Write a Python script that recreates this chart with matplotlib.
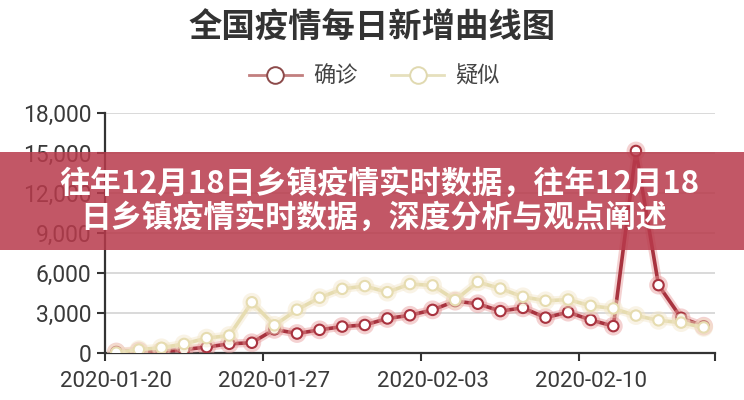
import matplotlib
matplotlib.use("Agg")
import matplotlib.pyplot as plt
import matplotlib.patheffects as pe
from matplotlib.lines import Line2D
from matplotlib.patches import Rectangle
from matplotlib.ticker import FuncFormatter, FixedLocator

plt.rcParams['font.family'] = ['Noto Sans CJK SC', 'DejaVu Sans']

dates = ["2020-01-20", "2020-01-21", "2020-01-22", "2020-01-23", "2020-01-24", "2020-01-25",
         "2020-01-26", "2020-01-27", "2020-01-28", "2020-01-29", "2020-01-30", "2020-01-31",
         "2020-02-01", "2020-02-02", "2020-02-03", "2020-02-04", "2020-02-05", "2020-02-06",
         "2020-02-07", "2020-02-08", "2020-02-09", "2020-02-10", "2020-02-11", "2020-02-12",
         "2020-02-13", "2020-02-14", "2020-02-15"]
confirmed = [77, 149, 131, 259, 444, 688, 769, 1771, 1459, 1737, 1982, 2102, 2590, 2829,
             3235, 3887, 3694, 3143, 3385, 2652, 3062, 2478, 2015, 15152, 5090, 2641, 2009]
suspected = [27, 257, 392, 680, 1118, 1309, 3806, 2077, 3248, 4148, 4812, 5019, 4562, 5173,
             5072, 3971, 5328, 4833, 4214, 3916, 4008, 3536, 3342, 2807, 2450, 2277, 1918]
label_every = 7
title = "全国疫情每日新增曲线图"
series_names = ["确诊", "疑似"]
banner_lines = ["往年12月18日乡镇疫情实时数据，往年12月18", "日乡镇疫情实时数据，深度分析与观点阐述"]

c_conf = "#a8333f"
c_conf_glow = "#e79a9a"
c_susp = "#e6dcb0"
c_susp_glow = "#f3e6c8"

fig = plt.figure(figsize=(7.44, 4.0), dpi=100)
fig.patch.set_facecolor("white")
ax = fig.add_axes([105/744, 47/400, 610/744, 240/400])

x = list(range(len(dates)))
ax.plot(x, confirmed, color=c_conf, lw=2.6, marker='o', ms=7.5, mfc='white', mec=c_conf, mew=1.5,
        zorder=3, path_effects=[pe.Stroke(linewidth=6, foreground=c_conf_glow, alpha=0.45), pe.Normal()])
ax.plot(x, suspected, color=c_susp, lw=2.6, marker='o', ms=7.5, mfc='white', mec=c_susp, mew=1.5,
        zorder=4, path_effects=[pe.Stroke(linewidth=6, foreground=c_susp_glow, alpha=0.45), pe.Normal()])

ax.set_xlim(-0.5, len(dates) - 0.5)
ax.set_ylim(0, 18000)
ax.set_yticks(range(0, 18001, 3000))
ax.yaxis.set_major_formatter(FuncFormatter(lambda v, p: f"{int(v):,}"))
ax.grid(axis='y', color='#d9d9d9', lw=1.4)
ax.set_axisbelow(True)

lab_idx = list(range(0, len(dates), label_every))
bounds = [i - 0.5 for i in lab_idx] + [len(dates) - 0.5]
ax.xaxis.set_major_locator(FixedLocator(bounds))
ax.xaxis.set_major_formatter(FuncFormatter(lambda v, p: ""))
ax.xaxis.set_minor_locator(FixedLocator(lab_idx))
ax.set_xticklabels([dates[i] for i in lab_idx], minor=True)
ax.tick_params(axis='x', which='minor', length=0, pad=13, labelsize=16, labelcolor='#3a3a3a')
ax.tick_params(axis='x', which='major', length=6, width=1.5, color='#333333')
ax.tick_params(axis='y', length=6, width=1.5, color='#333333', labelsize=16.5, labelcolor='#3a3a3a', pad=4)
for lab in ax.get_xticklabels(minor=True) + ax.get_yticklabels():
    lab.set_family(['Roboto', 'DejaVu Sans'])

for s in ['top', 'right']:
    ax.spines[s].set_visible(False)
for s in ['left', 'bottom']:
    ax.spines[s].set_color('#333333')
    ax.spines[s].set_linewidth(1.6)

fig.text(0.5, 1 - 28/400, title, ha='center', va='center', fontsize=24, fontweight='bold', color='#333333')

handles = [Line2D([], [], color='#c27f7f', lw=2, marker='o', ms=12, mfc='white', mec='#8c4a4a', mew=1.4),
           Line2D([], [], color='#e6e0bd', lw=2, marker='o', ms=12, mfc='white', mec='#e0d9b0', mew=1.4)]
fig.legend(handles, series_names, loc='center', bbox_to_anchor=(0.503, 1 - 76/400), ncol=2, frameon=False,
           fontsize=16, labelcolor='#444444', handlelength=2.4, columnspacing=1.5, handletextpad=0.5)

fig.patches.append(Rectangle((0, 1 - 250/400), 1, 98/400, transform=fig.transFigure,
                             facecolor='#b83a4b', alpha=0.85, edgecolor='none', zorder=10))
fig.text(379/744, 1 - 184/400, banner_lines[0], ha='center', va='center', fontsize=22.2,
         fontweight='bold', color='white', zorder=11)
fig.text(374/744, 1 - 218/400, banner_lines[1], ha='center', va='center', fontsize=22.2,
         fontweight='bold', color='white', zorder=11)

fig.savefig("out.png", dpi=100, facecolor='white')
